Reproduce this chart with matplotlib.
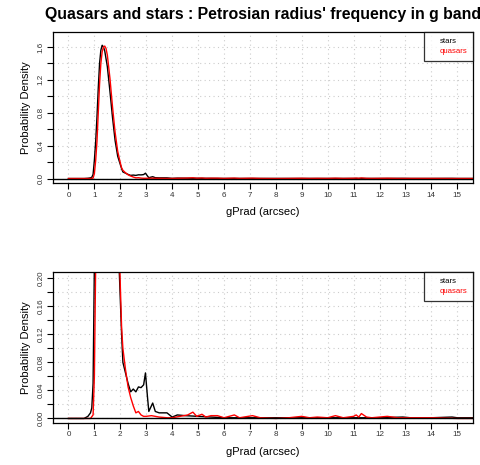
import matplotlib
matplotlib.use('Agg')
import matplotlib.pyplot as plt
from matplotlib.lines import Line2D
from matplotlib.ticker import MultipleLocator

plt.rcParams['font.family'] = ['Liberation Sans', 'DejaVu Sans']

# stars (black) density
stars_x = [0.0, 0.6, 0.75, 0.85, 0.9, 0.95, 1.0, 1.05, 1.1, 1.15, 1.2, 1.25, 1.3, 1.35,
           1.4, 1.5, 1.6, 1.7, 1.8, 1.9, 1.97, 2.05, 2.1, 2.2, 2.3, 2.4, 2.5, 2.6,
           2.7, 2.8, 2.9, 2.97, 3.05, 3.1, 3.25, 3.35, 3.5, 3.8, 4.0, 4.2, 4.5,
           5.0, 5.5, 6.0, 7.0, 8.0, 9.0, 10.0, 11.0, 12.0, 12.9, 13.2, 14.0, 14.8,
           15.0, 15.6]
stars_y = [0.0, 0.0, 0.003, 0.008, 0.015, 0.05, 0.22, 0.45, 0.75, 1.1, 1.4, 1.56, 1.62, 1.6,
           1.55, 1.36, 1.06, 0.74, 0.46, 0.27, 0.2, 0.12, 0.08, 0.065, 0.05, 0.038, 0.042, 0.038,
           0.045, 0.044, 0.048, 0.065, 0.03, 0.01, 0.022, 0.01, 0.008, 0.008, 0.002, 0.005, 0.004,
           0.003, 0.002, 0.001, 0.001, 0.001, 0.001, 0.001, 0.001, 0.001, 0.002, 0.001, 0.001, 0.002,
           0.001, 0.001]

# quasars (red) density
quasars_x = [0.0, 0.85, 0.95, 1.0, 1.05, 1.1, 1.15, 1.2, 1.25, 1.3, 1.35, 1.4, 1.45, 1.5,
             1.6, 1.7, 1.8, 1.9, 2.0, 2.05, 2.1, 2.2, 2.3, 2.4, 2.5, 2.6, 2.7, 2.8,
             2.9, 3.0, 3.2, 3.5, 3.8, 4.0, 4.3, 4.6, 4.8, 4.95, 5.15, 5.3, 5.5, 5.75,
             6.0, 6.4, 6.6, 7.1, 7.4, 8.0, 8.5, 9.0, 9.3, 9.6, 10.0, 10.3, 10.6, 11.0,
             11.1, 11.2, 11.3, 11.5, 11.7, 12.3, 12.5, 12.7, 13.4, 14.1, 15.0, 15.6]
quasars_y = [0.0, 0.0, 0.005, 0.06, 0.22, 0.45, 0.8, 1.15, 1.4, 1.54, 1.6, 1.61, 1.58, 1.5,
             1.22, 0.87, 0.56, 0.33, 0.19, 0.13, 0.1, 0.07, 0.045, 0.03, 0.018, 0.008, 0.01, 0.005,
             0.003, 0.003, 0.004, 0.002, 0.001, 0.001, 0.003, 0.005, 0.009, 0.003, 0.006, 0.002, 0.004, 0.004,
             0.001, 0.005, 0.001, 0.004, 0.001, 0.0, 0.001, 0.003, 0.001, 0.002, 0.001, 0.004, 0.001, 0.003,
             0.005, 0.002, 0.007, 0.002, 0.001, 0.003, 0.002, 0.001, 0.001, 0.001, 0.0, 0.0]

series_names = ['stars', 'quasars']
series_colors = ['black', 'red']
x_ticks = list(range(0, 16))

fig = plt.figure(figsize=(4.81, 4.65), dpi=100)
ax1 = fig.add_axes([0.110, 0.606, 0.873, 0.325])
ax2 = fig.add_axes([0.110, 0.090, 0.873, 0.325])

panels = [(ax1, (-0.057, 1.78), 0.4, 0.2, '%.1f'),
          (ax2, (-0.0067, 0.209), 0.04, 0.02, '%.2f')]

for ax, ylim, major, minor, fmt in panels:
    ax.plot(stars_x, stars_y, color='black', lw=1.0)
    ax.plot(quasars_x, quasars_y, color='red', lw=1.0)
    ax.axhline(0, color='black', lw=1.0)
    ax.set_xlim(-0.6, 15.6)
    ax.set_ylim(*ylim)
    ax.set_xticks(x_ticks)
    ax.yaxis.set_major_locator(MultipleLocator(major))
    ax.yaxis.set_minor_locator(MultipleLocator(minor))
    ax.yaxis.set_major_formatter(matplotlib.ticker.FormatStrFormatter(fmt))
    ax.grid(True, which='both', color='#cccccc', linestyle=(0, (1, 3)), lw=0.8)
    ax.tick_params(axis='both', which='both', length=4, width=0.8, labelsize=5.8,
                   colors='black', labelcolor='#333333', pad=2)
    ax.tick_params(axis='x', which='minor', bottom=False)
    for lab in ax.get_yticklabels():
        lab.set_rotation(90)
        lab.set_va('center')
    for sp in ax.spines.values():
        sp.set_linewidth(0.9)
    ax.set_xlabel('gPrad (arcsec)', fontsize=8, labelpad=6)
    ax.set_ylabel('Probability Density', fontsize=8, labelpad=5)
    handles = [Line2D([], [], linestyle='none', color=c) for c in series_colors]
    leg = ax.legend(handles, series_names, loc='upper right', fontsize=5.6,
                    frameon=True, fancybox=False, edgecolor='black',
                    borderaxespad=0, handlelength=0.9, handletextpad=0.4,
                    borderpad=0.7, labelspacing=0.35)
    leg.get_frame().set_linewidth(0.9)
    for t, c in zip(leg.get_texts(), series_colors):
        t.set_color(c)

fig.text(0.547, 0.969, "Quasars and stars : Petrosian radius' frequency in g band",
         ha='center', va='center', fontsize=11.4, fontweight='bold')

fig.savefig('out.png', dpi=100)
